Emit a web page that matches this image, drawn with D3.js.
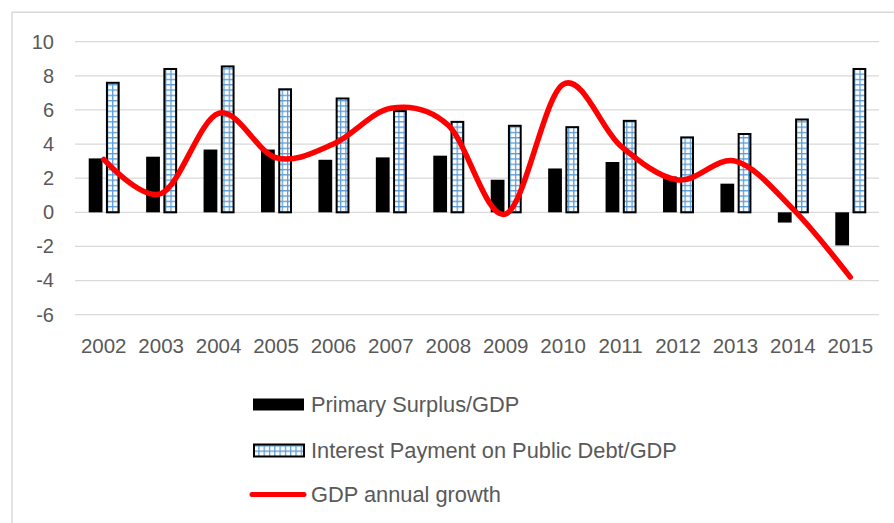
<!DOCTYPE html>
<html>
<head>
<meta charset="utf-8">
<script src="https://cdn.jsdelivr.net/npm/d3@7"></script>
<style>
    body { margin: 0; background: #fff; }
    text { font-family: "Liberation Sans", Arial, sans-serif; fill: #595959; }
</style>
</head>
<body>
<svg id="chart"></svg>
<script>
const years = ['2002', '2003', '2004', '2005', '2006', '2007', '2008', '2009', '2010', '2011', '2012', '2013', '2014', '2015'];
const primarySurplus = [3.16, 3.26, 3.68, 3.68, 3.08, 3.22, 3.32, 1.91, 2.57, 2.95, 2.1, 1.68, -0.6, -1.94];
const interestPayment = [7.65, 8.46, 8.61, 7.27, 6.73, 5.99, 5.36, 5.13, 5.05, 5.42, 4.45, 4.65, 5.5, 8.46];
const gdpGrowth = [3.1, 1.1, 5.8, 3.2, 4.0, 6.1, 5.1, -0.1, 7.5, 3.9, 1.9, 3.0, 0.2, -3.8];
const yTicks = [-6, -4, -2, 0, 2, 4, 6, 8, 10];
const legendLabels = ['Primary Surplus/GDP', 'Interest Payment on Public Debt/GDP', 'GDP annual growth'];

class ComboChart {
    constructor(config) {
        this.config = {
            parent: config.parent,
            width: config.width || 894,
            height: config.height || 523,
            margin: config.margin || { top: 41.7, right: 15, bottom: 208.3, left: 75 }
        };
        this.init();
    }

    init() {
        let self = this;

        self.svg = d3.select(self.config.parent)
            .attr('width', self.config.width)
            .attr('height', self.config.height);

        // grid hatch used by the interest payment bars
        const pat = self.svg.append('defs').append('pattern')
            .attr('id', 'smallgrid')
            .attr('patternUnits', 'userSpaceOnUse')
            .attr('width', 5.3)
            .attr('height', 5.3);
        pat.append('rect').attr('width', 5.3).attr('height', 5.3).attr('fill', '#fff');
        pat.append('path')
            .attr('d', 'M0,0.6H5.3M0.6,0V5.3')
            .attr('stroke', '#5b9bd5')
            .attr('stroke-width', 1.3);

        // chart frame (only the top and left edges are in view)
        self.svg.append('path')
            .attr('d', `M12,${self.config.height}V12.3H${self.config.width}`)
            .attr('fill', 'none')
            .attr('stroke', '#d9d9d9')
            .attr('stroke-width', 1.5);

        self.chart = self.svg.append('g')
            .attr('transform', `translate(${self.config.margin.left}, ${self.config.margin.top})`);

        self.inner_width = self.config.width - self.config.margin.left - self.config.margin.right;
        self.inner_height = self.config.height - self.config.margin.top - self.config.margin.bottom;

        self.xscale = d3.scaleBand()
            .domain(years)
            .range([0, self.inner_width]);

        self.xsub = d3.scaleBand()
            .domain(['ps', 'ip'])
            .range([self.xscale.bandwidth() / 2 - 15, self.xscale.bandwidth() / 2 + 16])
            .paddingInner(0.2);

        self.yscale = d3.scaleLinear()
            .domain([-6, 10])
            .range([self.inner_height, 0]);

        self.render();
    }

    render() {
        let self = this;

        // gridlines
        self.chart.append('g')
            .selectAll('line')
            .data(yTicks)
            .join('line')
            .attr('x1', 0)
            .attr('x2', self.inner_width)
            .attr('y1', d => self.yscale(d))
            .attr('y2', d => self.yscale(d))
            .attr('stroke', '#d9d9d9')
            .attr('stroke-width', 1.3);

        const yaxis = d3.axisLeft(self.yscale)
            .tickValues(yTicks)
            .tickFormat(d => String(d))
            .tickSize(0)
            .tickPadding(21);
        const yg = self.chart.append('g').call(yaxis);
        yg.select('.domain').remove();
        yg.selectAll('text')
            .attr('fill', '#595959')
            .style('font-size', '20px')
            .style('font-family', '"Liberation Sans", Arial, sans-serif');

        const xaxis = d3.axisBottom(self.xscale)
            .tickSize(0)
            .tickPadding(0);
        const xg = self.chart.append('g')
            .attr('transform', `translate(0, ${self.inner_height})`)
            .call(xaxis);
        xg.select('.domain').remove();
        xg.selectAll('text')
            .attr('dy', null)
            .attr('y', 38.5)
            .attr('fill', '#595959')
            .style('font-size', '20.5px')
            .style('font-family', '"Liberation Sans", Arial, sans-serif');

        const y0 = self.yscale(0);

        self.chart.append('g')
            .selectAll('rect')
            .data(primarySurplus)
            .join('rect')
            .attr('x', (d, i) => self.xscale(years[i]) + self.xsub('ps'))
            .attr('y', d => Math.min(self.yscale(d), y0))
            .attr('width', self.xsub.bandwidth())
            .attr('height', d => Math.abs(self.yscale(d) - y0))
            .attr('fill', '#000');

        self.chart.append('g')
            .selectAll('rect')
            .data(interestPayment)
            .join('rect')
            .attr('x', (d, i) => self.xscale(years[i]) + self.xsub('ip') + 1)
            .attr('y', d => self.yscale(d) + 1)
            .attr('width', self.xsub.bandwidth() - 2)
            .attr('height', d => y0 - self.yscale(d) - 1)
            .attr('fill', 'url(#smallgrid)')
            .attr('stroke', '#000')
            .attr('stroke-width', 2);

        const line = d3.line()
            .x((d, i) => self.xscale(years[i]) + self.xscale.bandwidth() / 2)
            .y(d => self.yscale(d))
            .curve(d3.curveCardinal.tension(0));

        self.chart.append('path')
            .datum(gdpGrowth)
            .attr('d', line)
            .attr('fill', 'none')
            .attr('stroke', '#ff0000')
            .attr('stroke-width', 5.5)
            .attr('stroke-linecap', 'round')
            .attr('stroke-linejoin', 'round');

        // legend
        const legend = self.svg.append('g')
            .attr('transform', 'translate(253, 0)');
        const rows = [404.5, 450.5, 494.5];

        legend.append('rect')
            .attr('x', 0).attr('y', rows[0] - 6)
            .attr('width', 51).attr('height', 12)
            .attr('fill', '#000');
        legend.append('rect')
            .attr('x', 1).attr('y', rows[1] - 6)
            .attr('width', 50).attr('height', 12)
            .attr('fill', 'url(#smallgrid)')
            .attr('stroke', '#000')
            .attr('stroke-width', 2);
        legend.append('line')
            .attr('x1', -1).attr('x2', 51)
            .attr('y1', rows[2]).attr('y2', rows[2])
            .attr('stroke', '#ff0000')
            .attr('stroke-width', 5)
            .attr('stroke-linecap', 'round');

        legend.selectAll('text.lab')
            .data(legendLabels)
            .join('text')
            .attr('class', 'lab')
            .attr('x', 58)
            .attr('y', (d, i) => rows[i] + 7.5)
            .style('font-size', '21.8px')
            .text(d => d);
    }
}

new ComboChart({ parent: '#chart' });
</script>
</body>
</html>
